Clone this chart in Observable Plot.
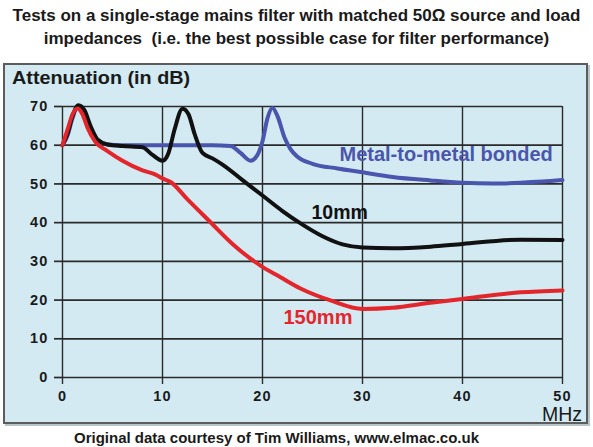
<!DOCTYPE html>
<html>
<head>
<meta charset="utf-8">
<script src="https://cdn.jsdelivr.net/npm/d3@7"></script>
<script src="https://cdn.jsdelivr.net/npm/@observablehq/plot@0.6"></script>
<style>
  html, body { margin: 0; padding: 0; background: #fff; }
  body { width: 593px; height: 447px; position: relative; overflow: hidden;
         font-family: "Liberation Sans", Arial, sans-serif; color: #1a1a1a; }
  #title { position: absolute; left: 0; top: 4px; width: 593px; text-align: center;
           font-weight: bold; font-size: 17px; line-height: 23px; }
  #panel { position: absolute; left: 3px; top: 63px; width: 581px; height: 357px;
           border: 2px solid #5c5c5c; background: #d3eaf2;
           box-shadow: 2px 2px 0 #b9c4c8; }
  #panel svg { position: absolute; left: 0; top: 0; }
  #ylabel { position: absolute; left: 7px; top: 2.5px; font-weight: bold; font-size: 18px;
            color: #1a1a1a; transform: scaleX(1.1); transform-origin: left center; }
  #unit { position: absolute; right: 4px; top: 343px; font-size: 19.5px; line-height: 12px; color: #1a1a1a; }
  #caption { position: absolute; left: 0; top: 429px; width: 553px; text-align: center;
             font-weight: bold; font-size: 15px; line-height: 17px; color: #1a1a1a; }
  g[aria-label="y-axis tick label"] text,
  g[aria-label="x-axis tick label"] text { letter-spacing: 1.2px; }
</style>
</head>
<body>
<div id="title">Tests on a single-stage mains filter with matched 50Ω source and load<br>impedances&nbsp; (i.e. the best possible case for filter performance)</div>
<div id="panel">
  <div id="ylabel">Attenuation (in dB)</div>
  <div id="unit">MHz</div>
</div>
<div id="caption">Original data courtesy of Tim Williams, www.elmac.co.uk</div>
<script>
// Frequency (MHz) and attenuation (dB) for each filter configuration
const bondedMHz = [0, 0.5, 1.0, 1.5, 2.0, 2.5, 3.0, 3.5, 4.5, 6, 10, 15, 16.8, 17.8, 18.8, 19.5, 20, 20.5, 21, 21.5, 22.2, 22.8, 23.5, 25, 27.5, 30, 33, 36.8, 40, 43, 45.8, 48, 50];
const bondedDB  = [60, 62.5, 67, 69.8, 69.5, 66.5, 63, 61, 60.2, 60, 60, 60, 59.8, 58, 56, 57.5, 61, 67, 69.6, 67.5, 62, 59, 57, 55.2, 54, 53, 51.8, 50.9, 50.3, 50.1, 50.3, 50.6, 51];

const mm10MHz = [0, 0.5, 1, 1.6, 2.2, 2.8, 3.5, 4.5, 6, 8, 9, 10, 10.6, 11.2, 12, 12.6, 13.2, 14, 15, 16, 18, 20, 22, 24, 26, 28, 30, 33, 36.8, 40, 45.8, 50];
const mm10DB  = [60, 63, 67.5, 70.3, 69, 65, 61.5, 60.2, 59.8, 59.5, 57.5, 56, 58, 64, 69.4, 68, 63, 58, 56.6, 55, 51, 47, 43, 39.5, 36.5, 34.4, 33.6, 33.4, 33.8, 34.5, 35.6, 35.5];

const mm150MHz = [0, 0.5, 1, 1.5, 2, 2.5, 3.3, 4.5, 6, 8, 9.3, 10.1, 10.8, 12.5, 14.8, 17, 19.8, 21.8, 23.8, 26.8, 30, 33, 36.8, 40, 45.8, 50];
const mm150DB  = [60, 64, 68, 69.5, 68, 64.5, 60.8, 58.5, 56, 53.5, 52.4, 51.3, 50.5, 46, 40.1, 34.5, 28.9, 25.9, 23, 19.9, 17.7, 18, 19.3, 20.3, 22, 22.5];

// Series names, colours and where their labels sit (MHz, dB)
const seriesNames  = ["Metal-to-metal bonded", "10mm", "150mm"];
const seriesColors = ["#4a55ad", "#111111", "#e3262b"];
const labelMHz     = [27.7, 24.9, 22.1];
const labelDB      = [57.5, 42.5, 15.5];
const labelSizes   = [20, 19.5, 20];

const xTicks = [0, 10, 20, 30, 40, 50];
const yTicks = [0, 10, 20, 30, 40, 50, 60, 70];

const toRows = (name, xs, ys) => xs.map((f, i) => ({name, f, db: ys[i]}));
const rows = [
  ...toRows(seriesNames[0], bondedMHz, bondedDB),
  ...toRows(seriesNames[1], mm10MHz, mm10DB),
  ...toRows(seriesNames[2], mm150MHz, mm150DB)
];
const labels = seriesNames.map((name, i) => ({name, f: labelMHz[i], db: labelDB[i], size: labelSizes[i]}));

const gridColor = "#2a2a2a";

const chart = Plot.plot({
  width: 581,
  height: 357,
  marginLeft: 57,
  marginRight: 24,
  marginTop: 41,
  marginBottom: 45,
  style: { background: "transparent", fontFamily: "'Liberation Sans', Arial, sans-serif" },
  x: { domain: [0, 50], ticks: xTicks },
  y: { domain: [0, 70], ticks: yTicks },
  color: { domain: seriesNames, range: seriesColors },
  marks: [
    Plot.gridX(xTicks, { stroke: gridColor, strokeOpacity: 1, strokeWidth: 1.4 }),
    Plot.gridY(yTicks, { stroke: gridColor, strokeOpacity: 1, strokeWidth: 1.7 }),
    Plot.axisX(xTicks, { tickSize: 7, tickPadding: 6, stroke: gridColor, strokeWidth: 1.4,
      fontSize: 14.5, fontWeight: "bold", fill: "#1a1a1a", label: null }),
    Plot.axisY(yTicks, { tickSize: 8, tickPadding: 6, stroke: gridColor, strokeWidth: 1.7,
      fontSize: 14.5, fontWeight: "bold", fill: "#1a1a1a", label: null }),
    Plot.line(rows, { x: "f", y: "db", z: "name", stroke: "name", strokeWidth: 4,
      curve: "monotone-x", strokeLinejoin: "round", strokeLinecap: "round" }),
    Plot.text(labels, { x: "f", y: "db", text: "name", fill: "name", textAnchor: "start",
      fontSize: d => d.size, fontWeight: "bold" })
  ]
});

document.getElementById("panel").appendChild(chart);
</script>
</body>
</html>
